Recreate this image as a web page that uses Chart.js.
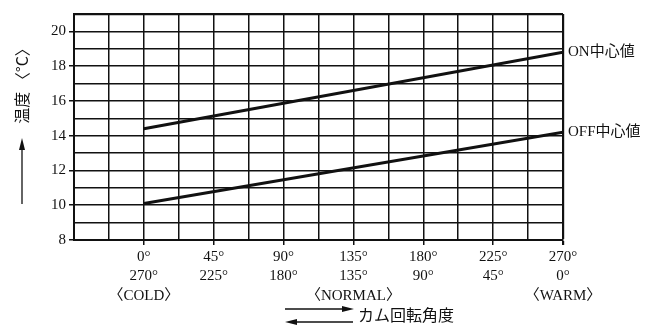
<!DOCTYPE html>
<html>
<head>
<meta charset="utf-8">
<script src="https://cdn.jsdelivr.net/npm/chart.js@4.4.0/dist/chart.umd.min.js"></script>
<style>
  html, body { margin: 0; padding: 0; background: #fff; }
</style>
</head>
<body>
<canvas id="chart" width="647" height="325"></canvas>
<script>
// data
const camAngles = [0, 270];
const onValues = [14.4, 18.8];
const offValues = [10.1, 14.2];
const seriesNames = ['ON中心値', 'OFF中心値'];
const topTicks = ['0°', '45°', '90°', '135°', '180°', '225°', '270°'];
const bottomTicks = ['270°', '225°', '180°', '135°', '90°', '45°', '0°'];
const zoneAngles = [0, 135, 270];
const zoneLabels = ['〈COLD〉', '〈NORMAL〉', '〈WARM〉'];
const yLabels = [8, 10, 12, 14, 16, 18, 20];

const ink = '#111';
const serif = '"Liberation Serif", "Noto Sans CJK JP", serif';
const jp = '"Noto Sans CJK JP", sans-serif';

function xLabel(v) {
  if (v < 0 || v % 45 !== 0) return '';
  const i = v / 45;
  const lines = [topTicks[i], bottomTicks[i]];
  const z = zoneAngles.indexOf(v);
  if (z >= 0) lines.push(zoneLabels[z]);
  return lines;
}

const extras = {
  id: 'extras',
  afterDatasetsDraw(chart) {
    const c = chart.ctx;
    c.save();
    c.fillStyle = ink;
    c.strokeStyle = ink;

    // series names at the line ends
    c.font = '15px ' + serif;
    c.textAlign = 'left';
    c.textBaseline = 'middle';
    chart.data.datasets.forEach((ds, i) => {
      const pts = chart.getDatasetMeta(i).data;
      const p = pts[pts.length - 1];
      c.fillText(seriesNames[i], p.x + 5, p.y);
    });

    // y axis title with arrow
    c.save();
    c.translate(22, 82);
    c.rotate(-Math.PI / 2);
    c.font = '16px ' + jp;
    c.textAlign = 'center';
    c.fillText('温度 〈°C〉', 0, 0);
    c.restore();
    c.lineWidth = 1.3;
    c.beginPath(); c.moveTo(22, 204); c.lineTo(22, 148); c.stroke();
    c.beginPath(); c.moveTo(22, 138); c.lineTo(19, 150); c.lineTo(25, 150); c.closePath(); c.fill();

    // x axis title with arrows
    c.font = '16px ' + jp;
    c.textAlign = 'left';
    c.fillText('カム回転角度', 358, 315);
    c.beginPath(); c.moveTo(285, 309); c.lineTo(344, 309); c.stroke();
    c.beginPath(); c.moveTo(354, 309); c.lineTo(342, 306); c.lineTo(342, 312); c.closePath(); c.fill();
    c.beginPath(); c.moveTo(295, 322); c.lineTo(353, 322); c.stroke();
    c.beginPath(); c.moveTo(285, 322); c.lineTo(297, 319); c.lineTo(297, 325); c.closePath(); c.fill();
    c.restore();
  }
};

new Chart(document.getElementById('chart'), {
  type: 'line',
  data: {
    datasets: [
      {
        label: seriesNames[0],
        data: camAngles.map((a, i) => ({ x: a, y: onValues[i] })),
        borderColor: ink,
        borderWidth: 3,
        pointRadius: 0
      },
      {
        label: seriesNames[1],
        data: camAngles.map((a, i) => ({ x: a, y: offValues[i] })),
        borderColor: ink,
        borderWidth: 3,
        pointRadius: 0
      }
    ]
  },
  options: {
    responsive: false,
    animation: false,
    devicePixelRatio: 1,
    layout: { padding: { top: 14, right: 84, left: 0, bottom: 0 } },
    scales: {
      x: {
        type: 'linear',
        min: -45,
        max: 270,
        afterFit: (s) => { s.height = 85; },
        border: { color: ink, width: 2 },
        grid: {
          color: ink,
          lineWidth: (ctx) => (ctx.tick && ctx.tick.value === 270 ? 2.2 : 1.5),
          tickLength: 5,
          tickColor: (ctx) => (ctx.tick && ctx.tick.value >= 0 && ctx.tick.value % 45 === 0 ? ink : 'rgba(0,0,0,0)')
        },
        ticks: {
          stepSize: 22.5,
          autoSkip: false,
          maxRotation: 0,
          padding: 2,
          color: ink,
          font: { family: serif, size: 15, lineHeight: 1.3 },
          callback: (v) => xLabel(v)
        }
      },
      y: {
        min: 8,
        max: 21,
        afterFit: (s) => { s.width = 74; },
        border: { color: ink, width: 2 },
        grid: {
          color: ink,
          lineWidth: (ctx) => (ctx.tick && ctx.tick.value === 21 ? 2.2 : 1.5),
          tickLength: 5,
          tickColor: (ctx) => (ctx.tick && yLabels.includes(ctx.tick.value) ? ink : 'rgba(0,0,0,0)')
        },
        ticks: {
          stepSize: 1,
          autoSkip: false,
          padding: 3,
          color: ink,
          font: { family: serif, size: 15 },
          callback: (v) => (yLabels.includes(v) ? String(v) : '')
        }
      }
    },
    plugins: {
      legend: { display: false },
      tooltip: { enabled: false }
    }
  },
  plugins: [extras]
});
</script>
</body>
</html>
